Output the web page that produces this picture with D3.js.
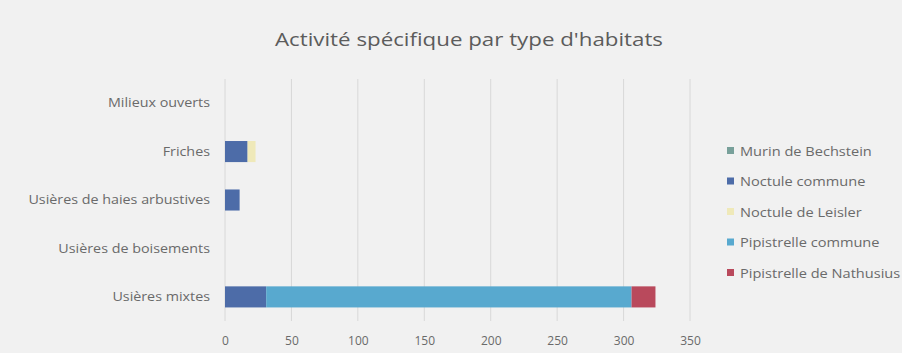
<!DOCTYPE html>
<html>
<head>
<meta charset="utf-8">
<script src="https://cdn.jsdelivr.net/npm/d3@7"></script>
<style>
  html, body { margin: 0; padding: 0; background: #f1f1f1; }
  svg { display: block; }
  text { font-family: "Open Sans", sans-serif; }
</style>
</head>
<body>
<svg id="chart" width="902" height="353"></svg>
<script>
const title = "Activité spécifique par type d'habitats";
const categories = ["Milieux ouverts", "Friches", "Usières de haies arbustives", "Usières de boisements", "Usières mixtes"];
const seriesNames = ["Murin de Bechstein", "Noctule commune", "Noctule de Leisler", "Pipistrelle commune", "Pipistrelle de Nathusius"];
const seriesColors = ["#78a09a", "#4d6ca8", "#efe9b9", "#58a9cf", "#b9495c"];
const murinBechstein = [0, 0, 0, 0, 0];
const noctuleCommune = [0, 17, 11, 0, 31];
const noctuleLeisler = [0, 6, 0, 0, 0];
const pipistrelleCommune = [0, 0, 0, 0, 275];
const pipistrelleNathusius = [0, 0, 0, 0, 18];
const xTicks = [0, 50, 100, 150, 200, 250, 300, 350];

const seriesValues = [murinBechstein, noctuleCommune, noctuleLeisler, pipistrelleCommune, pipistrelleNathusius];
const rows = categories.map((c, i) => {
  const r = { cat: c };
  seriesNames.forEach((s, j) => r[s] = seriesValues[j][i]);
  return r;
});

const svg = d3.select("#chart");
const plot = { left: 225, right: 690, top: 79, bottom: 321 };

const x = d3.scaleLinear().domain([0, 350]).range([plot.left, plot.right]);
const y = d3.scaleBand().domain(categories).range([plot.top, plot.bottom]).paddingInner(0.565).paddingOuter(0.28);

function stretch(sel, factor) {
  sel.each(function() {
    const w = this.getComputedTextLength();
    d3.select(this).attr("textLength", w * factor).attr("lengthAdjust", "spacingAndGlyphs");
  });
}

// title
const t = svg.append("text")
  .attr("x", 469).attr("y", 46)
  .attr("text-anchor", "middle")
  .attr("font-size", 18.5)
  .attr("fill", "#5c5c5c")
  .text(title);
t.attr("textLength", 388).attr("lengthAdjust", "spacingAndGlyphs");

// gridlines
svg.append("g").selectAll("line").data(xTicks).join("line")
  .attr("x1", d => x(d)).attr("x2", d => x(d))
  .attr("y1", plot.top).attr("y2", plot.bottom)
  .attr("stroke", "#d8d8d8").attr("stroke-width", 1);

// stacked bars
const stack = d3.stack().keys(seriesNames);
const stacked = stack(rows);
svg.append("g").selectAll("g").data(stacked).join("g")
  .attr("fill", (d, i) => seriesColors[i])
  .selectAll("rect").data(d => d).join("rect")
  .attr("x", d => x(d[0]))
  .attr("width", d => x(d[1]) - x(d[0]))
  .attr("y", d => y(d.data.cat))
  .attr("height", y.bandwidth());

// y axis labels
const yAxis = d3.axisLeft(y).tickSize(0).tickPadding(15);
const gy = svg.append("g").attr("transform", `translate(${plot.left},0)`).call(yAxis);
gy.select(".domain").remove();
gy.selectAll("text").attr("font-size", 13.5).attr("fill", "#6a6a6a").attr("font-family", "Open Sans, sans-serif")
  .call(stretch, 1.06);

// x axis labels
const xAxis = d3.axisBottom(x).tickValues(xTicks).tickSize(0).tickPadding(15);
const gx = svg.append("g").attr("transform", `translate(0,${plot.bottom})`).call(xAxis);
gx.select(".domain").remove();
gx.selectAll("text").attr("font-size", 12).attr("fill", "#6a6a6a").attr("font-family", "Open Sans, sans-serif");

// legend
const legend = svg.append("g").selectAll("g").data(seriesNames).join("g")
  .attr("transform", (d, i) => `translate(727,${151 + i * 30.5})`);
legend.append("rect").attr("x", 0).attr("y", -4).attr("width", 7).attr("height", 7)
  .attr("fill", (d, i) => seriesColors[i]);
legend.append("text").attr("x", 13).attr("y", 4.5)
  .attr("font-size", 13.5).attr("fill", "#6a6a6a")
  .text(d => d)
  .call(stretch, 1.08);
</script>
</body>
</html>
